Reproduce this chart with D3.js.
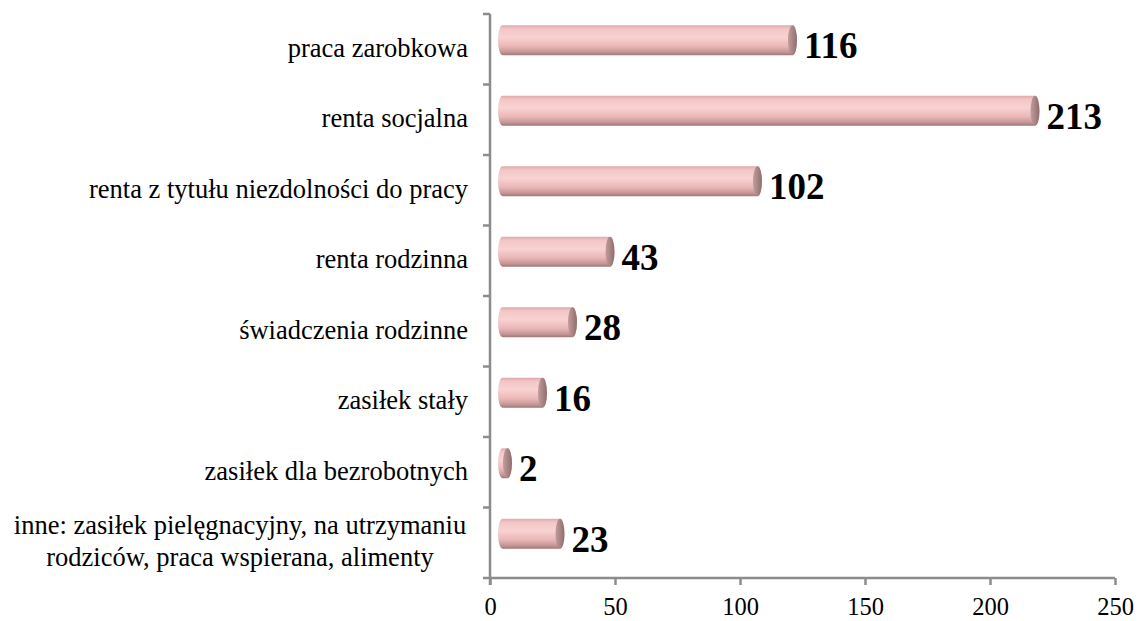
<!DOCTYPE html>
<html>
<head>
<meta charset="utf-8">
<script src="https://cdn.jsdelivr.net/npm/d3@7"></script>
<style>
  html, body { margin: 0; padding: 0; background: #fff; }
  svg { display: block; }
</style>
</head>
<body>
<svg id="chart" width="1139" height="621"></svg>
<script>
  // ── Data ──────────────────────────────────────────────────────────────────
  var categories = [
    'praca zarobkowa',
    'renta socjalna',
    'renta z tytułu niezdolności do pracy',
    'renta rodzinna',
    'świadczenia rodzinne',
    'zasiłek stały',
    'zasiłek dla bezrobotnych',
    'inne: zasiłek pielęgnacyjny, na utrzymaniu|rodziców, praca wspierana, alimenty'
  ];
  var values = [116, 213, 102, 43, 28, 16, 2, 23];
  var xTicks = [0, 50, 100, 150, 200, 250];

  // ── Layout ────────────────────────────────────────────────────────────────
  var plotLeft = 490, plotRight = 1115, plotTop = 14, plotBottom = 578;
  var depthX = 12.5, depthY = 9;   // 3D shift of the cylinders
  var barH = 30, rx = 4.5;
  var serif = '"Liberation Serif", "Times New Roman", Times, serif';
  var axisGrey = '#8c8c8c';

  var svg = d3.select('#chart');
  var defs = svg.append('defs');

  var grad = defs.append('linearGradient')
    .attr('id', 'cyl').attr('x1', 0).attr('y1', 0).attr('x2', 0).attr('y2', 1);
  [[0, '#deaaaa'], [0.12, '#f3c6c6'], [0.4, '#f9d2d2'], [0.7, '#eab7b7'], [0.9, '#c49494'], [1, '#9e7676']]
    .forEach(function (s) { grad.append('stop').attr('offset', s[0]).attr('stop-color', s[1]); });

  var capGrad = defs.append('linearGradient')
    .attr('id', 'cap').attr('x1', 0).attr('y1', 0).attr('x2', 1).attr('y2', 0);
  [[0, '#c29c9c'], [0.5, '#a98585'], [1, '#8f6e6e']]
    .forEach(function (s) { capGrad.append('stop').attr('offset', s[0]).attr('stop-color', s[1]); });

  var x = d3.scaleLinear().domain([0, 250]).range([plotLeft, plotRight]);
  var y = d3.scaleBand().domain(categories).range([plotTop, plotBottom]);

  // ── Axes ──────────────────────────────────────────────────────────────────
  var xAxis = svg.append('g')
    .attr('transform', 'translate(0,' + plotBottom + ')')
    .call(d3.axisBottom(x).tickValues(xTicks).tickSize(7).tickPadding(13));
  xAxis.select('.domain').attr('stroke', axisGrey).attr('stroke-width', 2.5)
    .attr('d', 'M' + plotLeft + ',0H' + plotRight);
  xAxis.selectAll('.tick line').attr('stroke', axisGrey).attr('stroke-width', 2.5);
  xAxis.selectAll('.tick text')
    .style('font-family', serif).style('font-size', '24.5px').attr('fill', '#000');

  var yAxis = svg.append('g')
    .attr('transform', 'translate(' + plotLeft + ',0)')
    .call(d3.axisLeft(y).tickSize(0).tickFormat(''));
  yAxis.select('.domain').attr('stroke', axisGrey).attr('stroke-width', 2.5)
    .attr('d', 'M0,' + plotTop + 'V' + (plotBottom + 7));
  yAxis.selectAll('.tick').remove();

  // y ticks at band boundaries
  var bounds = categories.map(function (c) { return y(c); }).concat([plotBottom]);
  svg.append('g').selectAll('line').data(bounds).join('line')
    .attr('x1', plotLeft - 7).attr('x2', plotLeft)
    .attr('y1', function (d) { return d; }).attr('y2', function (d) { return d; })
    .attr('stroke', axisGrey).attr('stroke-width', 2.5);

  // ── Category labels ───────────────────────────────────────────────────────
  var cats = svg.append('g').selectAll('text').data(categories).join('text')
    .style('font-family', serif).style('font-size', '26.5px').attr('fill', '#000')
    .attr('text-anchor', function (d) { return d.indexOf('|') >= 0 ? 'middle' : 'end'; })
    .attr('x', function (d) { return d.indexOf('|') >= 0 ? 240 : 468; })
    .attr('y', function (d) { return y(d) + y.bandwidth() / 2 - 2; });
  cats.each(function (d) {
    var lines = d.split('|');
    var t = d3.select(this);
    lines.forEach(function (ln, i) {
      t.append('tspan')
        .attr('x', t.attr('x'))
        .attr('dy', i === 0 ? (0.35 - (lines.length - 1) * 0.62) + 'em' : '1.24em')
        .text(ln);
    });
  });

  // ── Cylinders ─────────────────────────────────────────────────────────────
  var bars = svg.append('g').selectAll('g').data(categories).join('g');
  bars.each(function (c, i) {
    var g = d3.select(this);
    var cy = y(c) + y.bandwidth() / 2 - depthY;
    var x0 = x(0) + depthX, x1 = x(values[i]) + depthX;
    var y0 = cy - barH / 2, y1 = cy + barH / 2;
    var r = barH / 2;
    g.append('path')
      .attr('d', 'M' + x0 + ',' + y0 +
        'A' + rx + ',' + r + ' 0 0 0 ' + x0 + ',' + y1 +
        'L' + x1 + ',' + y1 +
        'A' + rx + ',' + r + ' 0 0 0 ' + x1 + ',' + y0 + 'Z')
      .attr('fill', 'url(#cyl)');
    g.append('ellipse')
      .attr('cx', x1).attr('cy', cy).attr('rx', rx).attr('ry', r)
      .attr('fill', 'url(#cap)');
    g.append('text')
      .style('font-family', serif).style('font-size', '37px').style('font-weight', 'bold')
      .attr('fill', '#000')
      .attr('x', x1 + rx + 7)
      .attr('y', cy + 18)
      .text(values[i]);
  });
</script>
</body>
</html>
